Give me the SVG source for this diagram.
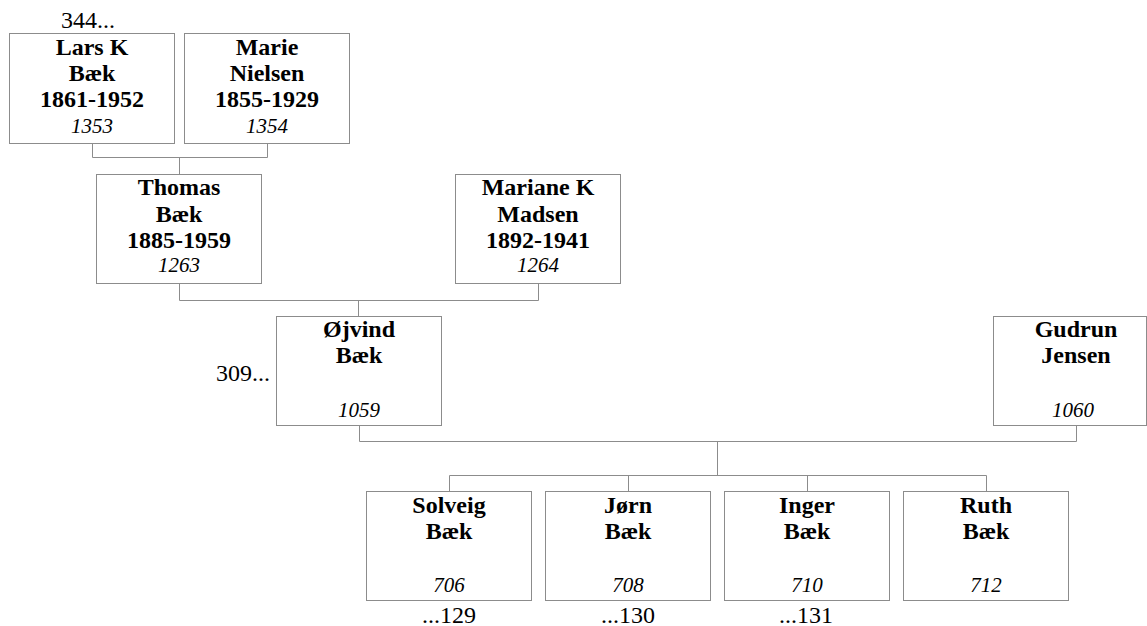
<svg xmlns="http://www.w3.org/2000/svg" width="1147" height="626" viewBox="0 0 1147 626">
<style>
.box{fill:#fff;stroke:#8c8c8c;stroke-width:1}
.con{fill:none;stroke:#8c8c8c;stroke-width:1}
.nm{font-family:"Liberation Serif","Times New Roman",serif;font-weight:bold;font-size:24px;text-anchor:middle;fill:#000}
.id{font-family:"Liberation Serif","Times New Roman",serif;font-style:italic;font-size:21px;text-anchor:middle;fill:#000}
.ann{font-family:"Liberation Serif","Times New Roman",serif;font-size:24px;fill:#000}
</style>
<rect width="1147" height="626" fill="#fff"/>
<g id="connectors">
<path class="con" d="M92.5,143.5V157.5H267.5V143.5M179.5,157.5V174.5"/>
<path class="con" d="M179.5,283.5V300.5H538.5V283.5M358.5,300.5V316.5"/>
<path class="con" d="M359.5,425.5V441.5H1076.5V425.5M717.5,441.5V475.5"/>
<path class="con" d="M449.5,491.5V475.5H986.5V491.5M628.5,475.5V491.5M807.5,475.5V491.5"/>
</g>
<g id="n1353">
<rect class="box" x="9.5" y="33.5" width="165" height="110"/>
<text class="nm" x="92" y="54.5">Lars K</text>
<text class="nm" x="92" y="81">Bæk</text>
<text class="nm" x="92" y="107">1861-1952</text>
<text class="id" x="92" y="133">1353</text>
<text class="ann" x="88" y="28" text-anchor="middle" font-size="21">344...</text>
</g>
<g id="n1354">
<rect class="box" x="184.5" y="33.5" width="165" height="110"/>
<text class="nm" x="267" y="54.5">Marie</text>
<text class="nm" x="267" y="81">Nielsen</text>
<text class="nm" x="267" y="107">1855-1929</text>
<text class="id" x="267" y="133">1354</text>
</g>
<g id="n1263">
<rect class="box" x="96.5" y="174.5" width="165" height="109"/>
<text class="nm" x="179" y="195">Thomas</text>
<text class="nm" x="179" y="221.5">Bæk</text>
<text class="nm" x="179" y="248">1885-1959</text>
<text class="id" x="179" y="272">1263</text>
</g>
<g id="n1264">
<rect class="box" x="455.5" y="174.5" width="165" height="109"/>
<text class="nm" x="538" y="195">Mariane K</text>
<text class="nm" x="538" y="221.5">Madsen</text>
<text class="nm" x="538" y="248">1892-1941</text>
<text class="id" x="538" y="272">1264</text>
</g>
<g id="n1059">
<rect class="box" x="276.5" y="316.5" width="165" height="109"/>
<text class="nm" x="359" y="337">Øjvind</text>
<text class="nm" x="359" y="363">Bæk</text>
<text class="id" x="359" y="416.5">1059</text>
<text class="ann" x="270" y="381" text-anchor="end">309...</text>
</g>
<g id="n1060">
<rect class="box" x="993.5" y="316.5" width="153" height="109"/>
<text class="nm" x="1076" y="337">Gudrun</text>
<text class="nm" x="1076" y="363">Jensen</text>
<text class="id" x="1073" y="416.5">1060</text>
</g>
<g id="n706">
<rect class="box" x="366.5" y="491.5" width="165" height="109"/>
<text class="nm" x="449" y="512.5">Solveig</text>
<text class="nm" x="449" y="538.5">Bæk</text>
<text class="id" x="449" y="591.5">706</text>
<text class="ann" x="449" y="623" text-anchor="middle">...129</text>
</g>
<g id="n708">
<rect class="box" x="545.5" y="491.5" width="165" height="109"/>
<text class="nm" x="628" y="512.5">Jørn</text>
<text class="nm" x="628" y="538.5">Bæk</text>
<text class="id" x="628" y="591.5">708</text>
<text class="ann" x="628" y="623" text-anchor="middle">...130</text>
</g>
<g id="n710">
<rect class="box" x="724.5" y="491.5" width="165" height="109"/>
<text class="nm" x="807" y="512.5">Inger</text>
<text class="nm" x="807" y="538.5">Bæk</text>
<text class="id" x="807" y="591.5">710</text>
<text class="ann" x="806" y="623" text-anchor="middle">...131</text>
</g>
<g id="n712">
<rect class="box" x="903.5" y="491.5" width="165" height="109"/>
<text class="nm" x="986" y="512.5">Ruth</text>
<text class="nm" x="986" y="538.5">Bæk</text>
<text class="id" x="986" y="591.5">712</text>
</g>
</svg>
